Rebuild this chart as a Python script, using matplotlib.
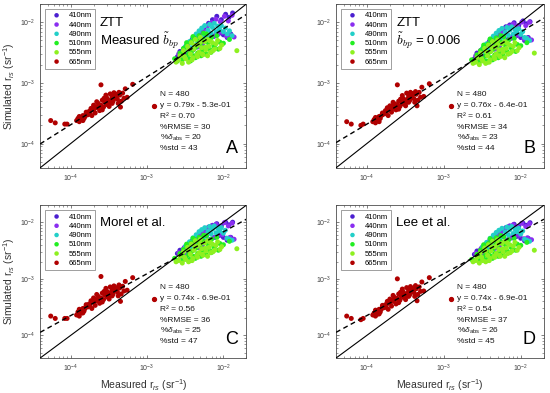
import numpy as np
import matplotlib
matplotlib.use("Agg")
import matplotlib.pyplot as plt

plt.rcParams['font.family'] = ['Liberation Sans', 'DejaVu Sans']
plt.rcParams['mathtext.fontset'] = 'custom'
plt.rcParams['mathtext.rm'] = 'Liberation Sans'
plt.rcParams['mathtext.it'] = 'Liberation Sans:italic'
plt.rcParams['mathtext.bf'] = 'Liberation Sans:bold'

# ---- data ----
bands = ['410nm', '440nm', '490nm', '510nm', '555nm', '665nm']
band_colors = ['#4b1fd0', '#8a2ef0', '#22cfc8', '#22ee22', '#8ef020', '#b00000']

# measured r_rs (same for every panel)
x410 = [2.5e-3, 2.7e-3, 2.9e-3, 3.1e-3, 3.3e-3, 3.5e-3, 3.7e-3, 3.9e-3, 4.1e-3, 4.4e-3,
        4.7e-3, 5.0e-3, 5.3e-3, 5.6e-3, 6.0e-3, 6.4e-3, 6.8e-3, 7.2e-3, 7.7e-3, 8.2e-3,
        8.8e-3, 9.4e-3, 1.0e-2, 1.07e-2, 1.12e-2, 1.18e-2, 1.25e-2, 1.32e-2]
x440 = [2.6e-3, 2.8e-3, 3.0e-3, 3.2e-3, 3.4e-3, 3.6e-3, 3.8e-3, 4.0e-3, 4.3e-3, 4.6e-3,
        4.9e-3, 5.2e-3, 5.5e-3, 5.8e-3, 6.2e-3, 6.6e-3, 7.0e-3, 7.5e-3, 8.0e-3, 8.5e-3,
        9.1e-3, 9.7e-3, 1.03e-2, 1.1e-2, 1.16e-2, 1.22e-2, 1.3e-2, 1.38e-2]
x490 = [3.2e-3, 3.4e-3, 3.6e-3, 3.8e-3, 4.0e-3, 4.2e-3, 4.4e-3, 4.6e-3, 4.8e-3, 5.0e-3,
        5.2e-3, 5.4e-3, 5.7e-3, 6.0e-3, 6.3e-3, 6.6e-3, 6.9e-3, 7.2e-3, 7.6e-3, 8.0e-3,
        8.4e-3, 8.9e-3, 9.4e-3, 1.0e-2, 1.06e-2, 1.12e-2, 1.2e-2, 1.3e-2]
x510 = [2.3e-3, 2.5e-3, 2.7e-3, 2.9e-3, 3.0e-3, 3.2e-3, 3.3e-3, 3.5e-3, 3.6e-3, 3.8e-3,
        3.9e-3, 4.1e-3, 4.2e-3, 4.4e-3, 4.6e-3, 4.8e-3, 5.0e-3, 5.2e-3, 5.4e-3, 5.7e-3,
        6.0e-3, 6.3e-3, 6.6e-3, 7.0e-3, 7.5e-3, 8.2e-3, 9.0e-3, 1.2e-2,
        2.9e-3, 3.3e-3, 3.7e-3, 4.0e-3, 4.3e-3, 4.7e-3, 5.1e-3, 5.5e-3, 5.9e-3, 6.4e-3,
        6.9e-3, 7.6e-3, 8.6e-3, 1.0e-2]
x555 = [2.4e-3, 2.7e-3, 2.9e-3, 3.0e-3, 3.2e-3, 3.4e-3, 3.5e-3, 3.7e-3, 3.8e-3, 4.0e-3,
        4.1e-3, 4.3e-3, 4.5e-3, 4.6e-3, 4.8e-3, 5.0e-3, 5.2e-3, 5.4e-3, 5.7e-3, 5.9e-3,
        6.2e-3, 6.5e-3, 6.8e-3, 7.2e-3, 7.7e-3, 8.4e-3, 9.5e-3, 1.5e-2,
        2.6e-3, 3.1e-3, 3.5e-3, 3.9e-3, 4.2e-3, 4.6e-3, 5.0e-3, 5.3e-3, 5.8e-3, 6.2e-3,
        6.7e-3, 7.3e-3, 8.0e-3, 9.0e-3]
x665 = [5.5e-5, 6.3e-5, 8.4e-5, 9.0e-5, 1.2e-4, 1.25e-4, 1.3e-4, 1.35e-4, 1.4e-4, 1.45e-4,
        1.5e-4, 1.55e-4, 1.6e-4, 1.7e-4, 1.75e-4, 1.8e-4, 1.9e-4, 2.0e-4, 2.0e-4, 2.1e-4,
        2.2e-4, 2.3e-4, 2.4e-4, 2.5e-4, 2.5e-4, 2.6e-4, 2.7e-4, 2.8e-4, 2.9e-4, 3.0e-4,
        3.0e-4, 3.1e-4, 3.2e-4, 3.3e-4, 3.4e-4, 3.5e-4, 3.6e-4, 3.7e-4, 3.8e-4, 4.0e-4,
        4.1e-4, 4.3e-4, 4.4e-4, 4.5e-4, 4.6e-4, 5.0e-4, 5.2e-4, 6.5e-4,
        1.3e-4, 1.45e-4, 1.6e-4, 1.85e-4, 2.1e-4, 2.2e-4, 2.35e-4, 2.6e-4, 2.75e-4, 3.0e-4,
        3.2e-4, 3.5e-4, 3.9e-4, 4.2e-4, 4.8e-4, 5.5e-4]

# simulated r_rs, panel A (ZTT, measured bbp)
y410_A = [2.7e-3, 3.3e-3, 2.5e-3, 3.8e-3, 2.9e-3, 4.5e-3, 3.2e-3, 5.2e-3, 3.6e-3, 6.0e-3,
          4.0e-3, 7.0e-3, 4.4e-3, 8.2e-3, 5.0e-3, 9.6e-3, 5.6e-3, 1.1e-2, 6.0e-3, 1.25e-2,
          6.6e-3, 1.1e-2, 6.2e-3, 1.35e-2, 5.6e-3, 1.2e-2, 6.4e-3, 1.42e-2]
y440_A = [3.0e-3, 2.6e-3, 3.6e-3, 2.8e-3, 4.2e-3, 3.1e-3, 4.9e-3, 3.5e-3, 5.6e-3, 3.9e-3,
          6.4e-3, 4.3e-3, 7.4e-3, 4.8e-3, 8.6e-3, 5.3e-3, 9.8e-3, 5.8e-3, 1.12e-2, 6.3e-3,
          1.02e-2, 6.8e-3, 1.25e-2, 5.9e-3, 1.05e-2, 6.1e-3, 1.3e-2, 5.7e-3]
y490_A = [4.0e-3, 3.4e-3, 4.8e-3, 3.8e-3, 5.6e-3, 4.2e-3, 6.4e-3, 4.6e-3, 7.2e-3, 5.0e-3,
          8.0e-3, 5.6e-3, 8.8e-3, 6.0e-3, 7.4e-3, 9.2e-3, 6.6e-3, 8.2e-3, 9.6e-3, 7.0e-3,
          8.6e-3, 7.6e-3, 8.8e-3, 7.0e-3, 8.0e-3, 6.4e-3, 7.2e-3, 6.0e-3]
y510_A = [2.5e-3, 2.3e-3, 3.1e-3, 2.4e-3, 3.7e-3, 2.7e-3, 4.2e-3, 3.0e-3, 2.5e-3, 4.8e-3,
          3.4e-3, 2.8e-3, 5.4e-3, 3.9e-3, 3.1e-3, 6.0e-3, 4.4e-3, 3.4e-3, 5.2e-3, 3.8e-3,
          6.4e-3, 4.6e-3, 3.6e-3, 5.6e-3, 4.2e-3, 6.0e-3, 4.7e-3, 5.2e-3,
          3.0e-3, 4.6e-3, 2.3e-3, 5.8e-3, 2.6e-3, 5.0e-3, 2.8e-3, 6.6e-3, 3.0e-3, 5.2e-3,
          3.2e-3, 4.0e-3, 3.6e-3, 4.5e-3]
y555_A = [2.2e-3, 2.8e-3, 2.1e-3, 3.4e-3, 2.5e-3, 4.0e-3, 2.2e-3, 3.0e-3, 4.6e-3, 2.6e-3,
          3.6e-3, 5.2e-3, 2.9e-3, 4.2e-3, 3.2e-3, 5.6e-3, 3.8e-3, 2.9e-3, 4.8e-3, 3.5e-3,
          5.2e-3, 4.0e-3, 3.2e-3, 4.6e-3, 3.6e-3, 5.0e-3, 4.2e-3, 3.4e-3,
          2.4e-3, 2.7e-3, 3.6e-3, 2.4e-3, 4.2e-3, 2.7e-3, 4.7e-3, 3.0e-3, 3.9e-3, 2.8e-3,
          4.9e-3, 3.4e-3, 4.4e-3, 3.7e-3]
y665_A = [2.4e-4, 2.2e-4, 2.1e-4, 2.1e-4, 2.4e-4, 2.6e-4, 2.3e-4, 2.7e-4, 2.5e-4, 2.9e-4,
          2.6e-4, 2.8e-4, 3.1e-4, 3.0e-4, 3.4e-4, 3.3e-4, 2.9e-4, 4.3e-4, 3.6e-4, 4.0e-4,
          3.9e-4, 4.6e-4, 3.5e-4, 9.3e-4, 4.3e-4, 5.2e-4, 4.0e-4, 4.8e-4, 6.3e-4, 4.4e-4,
          5.6e-4, 5.0e-4, 4.6e-4, 6.6e-4, 5.3e-4, 6.0e-4, 5.0e-4, 6.9e-4, 5.6e-4, 6.2e-4,
          5.4e-4, 7.0e-4, 6.3e-4, 4.0e-4, 5.0e-4, 5.6e-4, 8.0e-4, 9.5e-4,
          2.8e-4, 2.4e-4, 3.3e-4, 3.8e-4, 3.2e-4, 4.9e-4, 4.1e-4, 3.6e-4, 5.6e-4, 5.2e-4,
          4.1e-4, 4.6e-4, 6.5e-4, 4.6e-4, 6.8e-4, 5.8e-4]

# panel B (ZTT, bbp = 0.006)
y410_B = [2.5e-3, 3.1e-3, 2.4e-3, 3.5e-3, 2.7e-3, 4.2e-3, 3.0e-3, 4.8e-3, 3.4e-3, 5.5e-3,
          3.7e-3, 6.4e-3, 4.1e-3, 7.4e-3, 4.6e-3, 8.4e-3, 5.2e-3, 9.0e-3, 5.6e-3, 9.8e-3,
          6.0e-3, 8.8e-3, 5.6e-3, 1.05e-2, 5.0e-3, 9.4e-3, 5.6e-3, 1.02e-2]
y440_B = [2.8e-3, 2.4e-3, 3.4e-3, 2.6e-3, 3.9e-3, 2.9e-3, 4.5e-3, 3.3e-3, 5.2e-3, 3.6e-3,
          5.9e-3, 4.0e-3, 6.8e-3, 4.5e-3, 7.8e-3, 4.9e-3, 8.6e-3, 5.4e-3, 9.4e-3, 5.9e-3,
          8.6e-3, 6.2e-3, 1.0e-2, 5.3e-3, 8.8e-3, 5.5e-3, 1.0e-2, 5.1e-3]
y490_B = [3.7e-3, 3.2e-3, 4.4e-3, 3.5e-3, 5.2e-3, 3.9e-3, 5.9e-3, 4.3e-3, 6.6e-3, 4.6e-3,
          7.3e-3, 5.2e-3, 7.9e-3, 5.6e-3, 6.8e-3, 8.2e-3, 6.1e-3, 7.4e-3, 8.4e-3, 6.4e-3,
          7.6e-3, 6.9e-3, 7.8e-3, 6.3e-3, 7.0e-3, 5.6e-3, 5.4e-3, 5.0e-3]
y510_B = [2.4e-3, 2.2e-3, 2.9e-3, 2.2e-3, 3.4e-3, 2.5e-3, 3.9e-3, 2.8e-3, 2.3e-3, 4.4e-3,
          3.2e-3, 2.6e-3, 5.0e-3, 3.6e-3, 2.9e-3, 5.5e-3, 4.1e-3, 3.2e-3, 4.8e-3, 3.5e-3,
          5.8e-3, 4.2e-3, 3.3e-3, 5.1e-3, 3.9e-3, 5.4e-3, 4.3e-3, 4.6e-3,
          2.8e-3, 4.2e-3, 2.2e-3, 5.3e-3, 2.4e-3, 4.6e-3, 2.6e-3, 6.0e-3, 2.8e-3, 4.8e-3,
          3.0e-3, 3.7e-3, 3.3e-3, 4.1e-3]
y555_B = [2.1e-3, 2.6e-3, 2.0e-3, 3.1e-3, 2.3e-3, 3.7e-3, 2.1e-3, 2.8e-3, 4.2e-3, 2.4e-3,
          3.3e-3, 4.8e-3, 2.7e-3, 3.9e-3, 3.0e-3, 5.1e-3, 3.5e-3, 2.7e-3, 4.4e-3, 3.2e-3,
          4.8e-3, 3.7e-3, 3.0e-3, 4.2e-3, 3.3e-3, 4.6e-3, 3.8e-3, 3.1e-3,
          2.2e-3, 2.5e-3, 3.3e-3, 2.2e-3, 3.9e-3, 2.5e-3, 4.3e-3, 2.8e-3, 3.6e-3, 2.6e-3,
          4.5e-3, 3.1e-3, 4.0e-3, 3.4e-3]
y665_B = [2.3e-4, 2.1e-4, 2.0e-4, 2.1e-4, 2.3e-4, 2.5e-4, 2.2e-4, 2.6e-4, 2.5e-4, 2.8e-4,
          2.6e-4, 2.9e-4, 3.0e-4, 3.1e-4, 3.5e-4, 3.3e-4, 2.9e-4, 4.2e-4, 3.7e-4, 4.1e-4,
          3.8e-4, 4.5e-4, 3.6e-4, 9.3e-4, 4.4e-4, 5.0e-4, 4.1e-4, 4.9e-4, 6.2e-4, 4.5e-4,
          5.5e-4, 5.1e-4, 4.7e-4, 6.8e-4, 5.4e-4, 6.1e-4, 5.1e-4, 7.0e-4, 5.7e-4, 6.4e-4,
          5.5e-4, 7.2e-4, 6.5e-4, 4.2e-4, 5.2e-4, 5.8e-4, 8.5e-4, 9.7e-4,
          2.7e-4, 2.3e-4, 3.2e-4, 3.9e-4, 3.3e-4, 4.8e-4, 4.2e-4, 3.7e-4, 5.4e-4, 5.3e-4,
          4.2e-4, 4.8e-4, 6.7e-4, 4.8e-4, 7.0e-4, 6.0e-4]

# panel C (Morel et al.)
y410_C = [2.8e-3, 3.2e-3, 2.4e-3, 3.6e-3, 2.6e-3, 4.1e-3, 2.9e-3, 4.7e-3, 3.3e-3, 5.4e-3,
          3.6e-3, 6.2e-3, 4.0e-3, 7.2e-3, 4.5e-3, 8.2e-3, 5.0e-3, 8.8e-3, 5.4e-3, 9.4e-3,
          5.8e-3, 8.6e-3, 5.4e-3, 1.0e-2, 4.8e-3, 9.0e-3, 5.4e-3, 1.0e-2]
y440_C = [2.9e-3, 2.5e-3, 3.4e-3, 2.6e-3, 3.9e-3, 2.9e-3, 4.5e-3, 3.3e-3, 5.2e-3, 3.6e-3,
          5.9e-3, 4.0e-3, 6.8e-3, 4.5e-3, 7.8e-3, 4.9e-3, 8.6e-3, 5.4e-3, 9.2e-3, 5.8e-3,
          8.4e-3, 6.0e-3, 9.8e-3, 5.2e-3, 8.6e-3, 5.4e-3, 9.6e-3, 5.0e-3]
y490_C = [3.8e-3, 3.2e-3, 4.5e-3, 3.5e-3, 5.3e-3, 3.9e-3, 6.0e-3, 4.3e-3, 6.8e-3, 4.7e-3,
          7.4e-3, 5.2e-3, 8.0e-3, 5.6e-3, 6.9e-3, 8.4e-3, 6.2e-3, 7.5e-3, 8.6e-3, 6.5e-3,
          7.8e-3, 7.0e-3, 8.0e-3, 6.4e-3, 7.2e-3, 5.2e-3, 5.0e-3, 4.8e-3]
y510_C = [2.3e-3, 2.1e-3, 2.8e-3, 2.1e-3, 3.3e-3, 2.4e-3, 3.8e-3, 2.7e-3, 2.2e-3, 4.3e-3,
          3.1e-3, 2.5e-3, 4.9e-3, 3.5e-3, 2.8e-3, 5.4e-3, 4.0e-3, 3.1e-3, 4.7e-3, 3.4e-3,
          5.8e-3, 4.1e-3, 3.2e-3, 5.0e-3, 3.8e-3, 5.4e-3, 4.2e-3, 4.6e-3,
          2.7e-3, 4.1e-3, 2.1e-3, 5.2e-3, 2.3e-3, 4.5e-3, 2.5e-3, 5.9e-3, 2.7e-3, 4.7e-3,
          2.9e-3, 3.6e-3, 3.2e-3, 4.0e-3]
y555_C = [2.0e-3, 2.5e-3, 1.9e-3, 3.0e-3, 2.2e-3, 3.6e-3, 2.0e-3, 2.7e-3, 4.1e-3, 2.3e-3,
          3.2e-3, 4.7e-3, 2.6e-3, 3.8e-3, 2.9e-3, 5.0e-3, 3.4e-3, 2.6e-3, 4.3e-3, 3.1e-3,
          4.7e-3, 3.6e-3, 2.9e-3, 4.1e-3, 3.2e-3, 4.5e-3, 3.7e-3, 3.4e-3,
          2.1e-3, 2.4e-3, 3.2e-3, 2.1e-3, 3.8e-3, 2.4e-3, 4.2e-3, 2.7e-3, 3.5e-3, 2.5e-3,
          4.4e-3, 3.0e-3, 3.9e-3, 3.3e-3]
y665_C = [2.2e-4, 2.0e-4, 2.0e-4, 2.0e-4, 2.3e-4, 2.6e-4, 2.2e-4, 2.8e-4, 2.5e-4, 3.0e-4,
          2.7e-4, 3.0e-4, 3.3e-4, 3.2e-4, 3.6e-4, 3.5e-4, 3.0e-4, 4.6e-4, 3.9e-4, 4.3e-4,
          4.1e-4, 4.9e-4, 3.7e-4, 1.1e-3, 4.6e-4, 5.6e-4, 4.3e-4, 5.2e-4, 6.8e-4, 4.8e-4,
          6.0e-4, 5.4e-4, 5.0e-4, 7.2e-4, 5.8e-4, 6.5e-4, 5.4e-4, 7.5e-4, 6.1e-4, 6.8e-4,
          5.9e-4, 7.8e-4, 6.9e-4, 4.0e-4, 5.4e-4, 6.1e-4, 9.0e-4, 1.05e-3,
          2.9e-4, 2.5e-4, 3.5e-4, 4.1e-4, 3.4e-4, 5.3e-4, 4.4e-4, 3.9e-4, 6.0e-4, 5.6e-4,
          4.4e-4, 5.0e-4, 7.0e-4, 5.0e-4, 7.4e-4, 6.3e-4]

# panel D (Lee et al.)
y410_D = [2.7e-3, 3.1e-3, 2.4e-3, 3.5e-3, 2.6e-3, 4.0e-3, 2.9e-3, 4.6e-3, 3.2e-3, 5.3e-3,
          3.5e-3, 6.0e-3, 3.9e-3, 7.0e-3, 4.4e-3, 8.0e-3, 4.9e-3, 8.6e-3, 5.3e-3, 9.2e-3,
          5.6e-3, 8.4e-3, 5.2e-3, 9.6e-3, 4.7e-3, 8.8e-3, 5.2e-3, 9.8e-3]
y440_D = [2.8e-3, 2.4e-3, 3.3e-3, 2.6e-3, 3.8e-3, 2.8e-3, 4.4e-3, 3.2e-3, 5.1e-3, 3.5e-3,
          5.8e-3, 3.9e-3, 6.6e-3, 4.4e-3, 7.6e-3, 4.8e-3, 8.4e-3, 5.3e-3, 9.0e-3, 5.7e-3,
          8.2e-3, 5.9e-3, 9.6e-3, 5.1e-3, 8.4e-3, 5.3e-3, 9.4e-3, 4.9e-3]
y490_D = [3.7e-3, 3.1e-3, 4.4e-3, 3.4e-3, 5.2e-3, 3.8e-3, 5.9e-3, 4.2e-3, 6.6e-3, 4.6e-3,
          7.2e-3, 5.1e-3, 7.8e-3, 5.5e-3, 6.7e-3, 8.2e-3, 6.0e-3, 7.3e-3, 8.4e-3, 6.3e-3,
          7.6e-3, 6.8e-3, 7.8e-3, 6.2e-3, 7.0e-3, 5.0e-3, 4.8e-3, 4.6e-3]
y510_D = [2.2e-3, 2.1e-3, 2.7e-3, 2.1e-3, 3.2e-3, 2.4e-3, 3.7e-3, 2.7e-3, 2.2e-3, 4.2e-3,
          3.0e-3, 2.5e-3, 4.8e-3, 3.4e-3, 2.8e-3, 5.3e-3, 3.9e-3, 3.0e-3, 4.6e-3, 3.3e-3,
          5.6e-3, 4.0e-3, 3.1e-3, 4.9e-3, 3.7e-3, 5.2e-3, 4.1e-3, 4.4e-3,
          2.6e-3, 4.0e-3, 2.1e-3, 5.1e-3, 2.3e-3, 4.4e-3, 2.5e-3, 5.8e-3, 2.7e-3, 4.6e-3,
          2.9e-3, 3.5e-3, 3.2e-3, 3.9e-3]
y555_D = [2.0e-3, 2.4e-3, 1.9e-3, 2.9e-3, 2.1e-3, 3.5e-3, 2.0e-3, 2.6e-3, 4.0e-3, 2.3e-3,
          3.1e-3, 4.6e-3, 2.5e-3, 3.7e-3, 2.8e-3, 4.9e-3, 3.3e-3, 2.5e-3, 4.2e-3, 3.0e-3,
          4.6e-3, 3.5e-3, 2.8e-3, 4.0e-3, 3.1e-3, 4.4e-3, 3.6e-3, 3.2e-3,
          2.1e-3, 2.4e-3, 3.1e-3, 2.1e-3, 3.7e-3, 2.4e-3, 4.1e-3, 2.6e-3, 3.4e-3, 2.5e-3,
          4.3e-3, 2.9e-3, 3.8e-3, 3.2e-3]
y665_D = [2.2e-4, 2.0e-4, 1.9e-4, 2.0e-4, 2.3e-4, 2.5e-4, 2.2e-4, 2.7e-4, 2.4e-4, 2.9e-4,
          2.6e-4, 2.9e-4, 3.2e-4, 3.1e-4, 3.5e-4, 3.4e-4, 2.9e-4, 4.4e-4, 3.8e-4, 4.2e-4,
          4.0e-4, 4.7e-4, 3.6e-4, 1.0e-3, 4.5e-4, 5.4e-4, 4.2e-4, 5.0e-4, 6.6e-4, 4.7e-4,
          5.8e-4, 5.3e-4, 4.9e-4, 7.0e-4, 5.6e-4, 6.3e-4, 5.2e-4, 7.3e-4, 5.9e-4, 6.6e-4,
          5.7e-4, 7.6e-4, 6.7e-4, 4.1e-4, 5.3e-4, 6.0e-4, 8.8e-4, 1.05e-3,
          2.8e-4, 2.4e-4, 3.4e-4, 4.0e-4, 3.3e-4, 5.1e-4, 4.3e-4, 3.8e-4, 5.8e-4, 5.4e-4,
          4.3e-4, 4.9e-4, 6.8e-4, 4.9e-4, 7.2e-4, 6.1e-4]

# fit stats per panel: slope, intercept (log10 space), R2, %RMSE, %dabs, %std
slopes = [0.79, 0.76, 0.74, 0.74]
intercepts = [-0.53, -0.64, -0.69, -0.69]
r2 = ['0.70', '0.61', '0.56', '0.54']
rmse = [30, 34, 36, 37]
dabs = [20, 23, 25, 26]
std = [43, 44, 47, 45]
letters = ['A', 'B', 'C', 'D']
titles = [['ZTT', r'Measured $\tilde{b}_{bp}$'],
          ['ZTT', r'$\tilde{b}_{bp}$ = 0.006'],
          ['Morel et al.'],
          ['Lee et al.']]

xs = [x410, x440, x490, x510, x555, x665]
ys = [[y410_A, y440_A, y490_A, y510_A, y555_A, y665_A],
      [y410_B, y440_B, y490_B, y510_B, y555_B, y665_B],
      [y410_C, y440_C, y490_C, y510_C, y555_C, y665_C],
      [y410_D, y440_D, y490_D, y510_D, y555_D, y665_D]]

lim = (4e-5, 2e-2)
positions = [[0.073, 0.573, 0.375, 0.417],
             [0.611, 0.573, 0.378, 0.417],
             [0.073, 0.089, 0.375, 0.389],
             [0.611, 0.089, 0.378, 0.389]]

fig = plt.figure(figsize=(5.5, 3.93), dpi=100)

for i in range(4):
    ax = fig.add_axes(positions[i])
    ax.set_xscale('log')
    ax.set_yscale('log')
    ax.set_xlim(lim)
    ax.set_ylim(lim)

    for xb, yb, lab, col in zip(xs, ys[i], bands, band_colors):
        ax.scatter(xb, yb, s=13, color=col, edgecolors='none', label=lab, zorder=2)

    # 1:1 line and regression line (log-log)
    ax.plot(lim, lim, color='k', lw=0.8, zorder=3)
    lx = np.array(lim)
    ax.plot(lx, 10 ** (slopes[i] * np.log10(lx) + intercepts[i]), 'k--', lw=1.0,
            dashes=(3.5, 2.5), zorder=3)

    ax.set_xticks([1e-4, 1e-3, 1e-2])
    ax.set_yticks([1e-4, 1e-3, 1e-2])
    ax.tick_params(which='both', direction='in', top=True, right=True,
                   labelsize=5, colors='0.3', labelcolor='0.25')
    ax.tick_params(which='major', length=2.5, width=0.5)
    ax.tick_params(which='minor', length=1.3, width=0.4)
    for sp in ax.spines.values():
        sp.set_color('0.3')
        sp.set_linewidth(0.6)

    leg = ax.legend(loc='upper left', fontsize=5.5, frameon=True, fancybox=False,
                    edgecolor='0.45', borderaxespad=0.6, borderpad=0.45,
                    handlelength=2.2, handletextpad=0.5, labelspacing=0.25,
                    scatterpoints=1, markerscale=0.9)
    leg.get_frame().set_linewidth(0.6)

    # panel titles
    for j, t in enumerate(titles[i]):
        kw = {}
        if 'tilde' in t:
            kw['math_fontfamily'] = 'cm'
        ax.text(0.29, 0.885 - j * 0.11, t, transform=ax.transAxes, fontsize=9.5,
                va='center', ha='left', **kw)

    # statistics
    h = positions[0][3] / positions[i][3]
    lines = ['N = 480',
             'y = %.2fx - %.1e' % (slopes[i], abs(intercepts[i])),
             'R\u00b2 = ' + r2[i],
             '%%RMSE = %d' % rmse[i],
             r'%$\delta_{\rm abs}$ = ' + str(dabs[i]),
             '%%std = %d' % std[i]]
    y0 = 0.445 if i < 2 else 0.46
    for j, t in enumerate(lines):
        ax.text(0.58, y0 - j * 0.066 * h, t, transform=ax.transAxes, fontsize=6.0,
                va='center', ha='left', color='0.1')
    ax.plot([0.553], [y0 - 0.066 * h], marker='o', ms=2.8, color=band_colors[-1],
            transform=ax.transAxes, ls='none')

    ax.text(0.93, 0.09, letters[i], transform=ax.transAxes, fontsize=13,
            ha='center', va='baseline')

    if i in (0, 2):
        ax.set_ylabel('Simulated r$_{rs}$ (sr$^{-1}$)', fontsize=7.5, labelpad=2.5, color='0.2')
    if i in (2, 3):
        ax.set_xlabel('Measured r$_{rs}$ (sr$^{-1}$)', fontsize=7.5, labelpad=2, color='0.2')

fig.savefig('out.png', dpi=100)
